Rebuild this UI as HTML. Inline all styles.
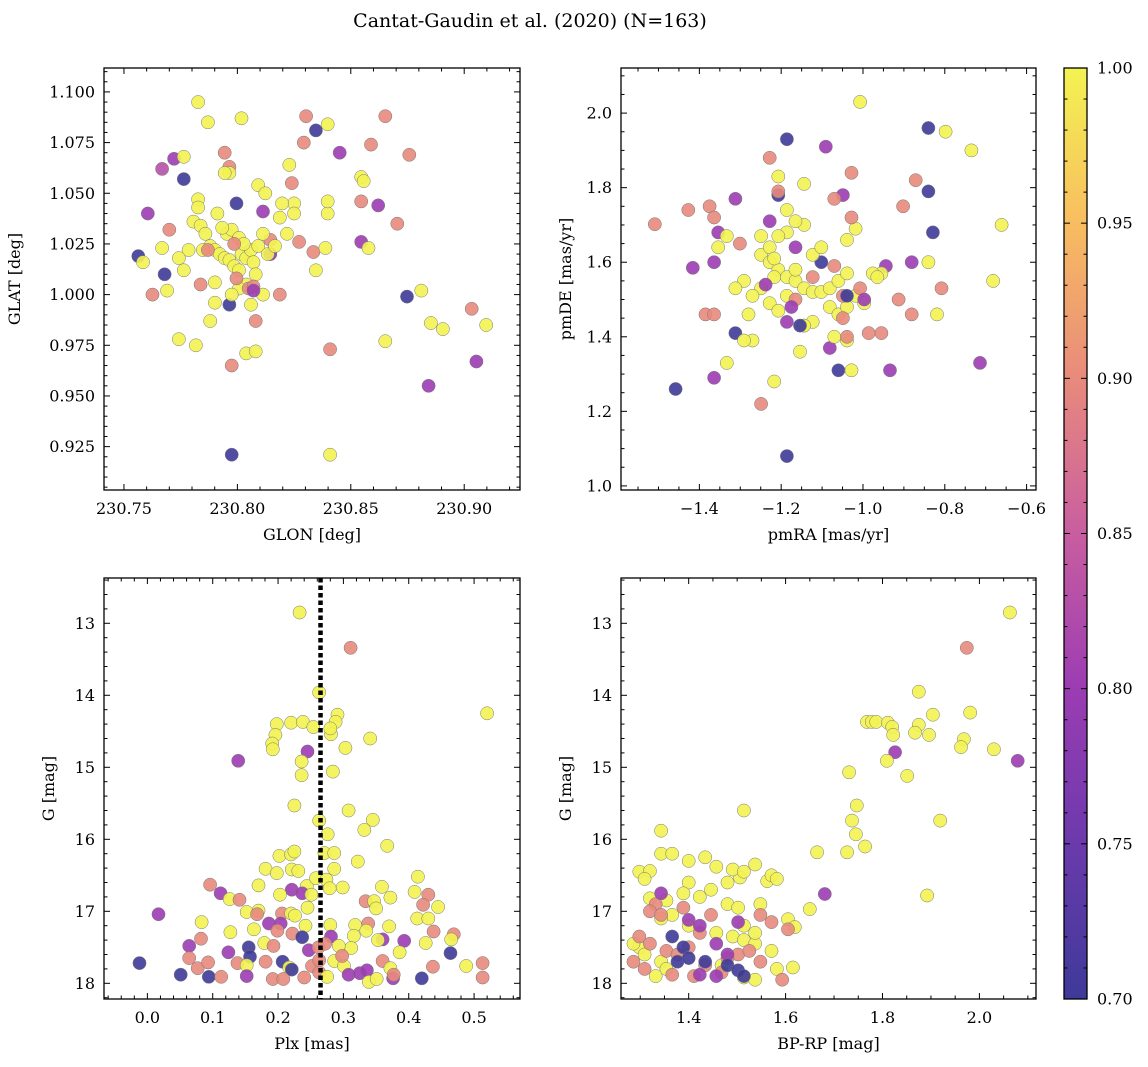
<!DOCTYPE html>
<html><head><meta charset="utf-8">
<style>
html,body{margin:0;padding:0;background:#fff;}
svg{display:block;font-family:"DejaVu Serif","Liberation Serif",serif;}
</style></head>
<body>
<svg id="chart" width="1148" height="1067" viewBox="0 0 1148 1067" xmlns="http://www.w3.org/2000/svg">
<defs>
<linearGradient id="cbar" x1="0" y1="1" x2="0" y2="0">
<stop offset="0" stop-color="#3e3a99"/><stop offset="0.1667" stop-color="#6b3aac"/><stop offset="0.3333" stop-color="#9c3cb3"/><stop offset="0.5" stop-color="#c85ea0"/><stop offset="0.6667" stop-color="#e88a7c"/><stop offset="0.8333" stop-color="#f8bd60"/><stop offset="1" stop-color="#f3f352"/>
</linearGradient>
</defs>
<text x="530" y="27" font-size="19" text-anchor="middle">Cantat-Gaudin et al. (2020) (N=163)</text>
</svg>
<script>
// ---- Data ----
const tlGlon=[230.7563,230.7584,230.7605,230.7626,230.7668,230.7679,230.7690,230.7668,230.7700,230.7721,230.7742,230.7764,230.7764,230.7817,230.7827,230.7838,230.7870,230.7880,230.7901,230.7912,230.7944,230.7965,230.7965,230.7975,230.7996,230.7975,230.8018,230.8039,230.8081,230.8113,230.8145,230.8145,230.8187,230.8187,230.8229,230.8240,230.8250,230.8272,230.8293,230.8303,230.8346,230.8346,230.8335,230.8398,230.8398,230.8398,230.8409,230.8388,230.8451,230.8546,230.8557,230.8546,230.8546,230.8578,230.8589,230.8621,230.8652,230.8652,230.8705,230.8758,230.8748,230.8811,230.8853,230.8843,230.8906,230.9033,230.9054,230.9097,230.8409,
230.7806,230.7838,230.7859,230.7827,230.7827,230.7880,230.7901,230.7922,230.7944,230.7965,230.7986,230.8007,230.8018,230.8039,230.8060,230.8071,230.8081,230.8039,230.8007,230.7975,230.7954,230.7975,230.8007,230.8028,230.8092,230.8113,230.8134,230.8166,230.8092,230.8123,230.8219,230.7848,230.7785,230.7742,230.7764,230.7901,230.7933,230.7965,230.7944,230.8113,230.8060,230.8197,230.8250,
230.7996,230.8050,230.8071,230.7870,230.7986,230.8081,230.8071];
const tlGlat=[1.019,1.016,1.040,1.000,1.062,1.010,1.002,1.023,1.032,1.067,0.978,1.057,1.068,0.975,1.095,1.005,1.085,0.987,0.996,1.040,1.070,1.063,0.995,0.921,1.045,0.965,1.087,0.971,0.972,1.041,1.027,1.020,1.000,1.038,1.064,1.055,1.045,1.026,1.075,1.088,1.081,1.012,1.021,1.084,1.040,1.046,0.973,1.023,1.070,1.058,1.056,1.046,1.026,1.023,1.074,1.044,1.088,0.977,1.035,1.069,0.999,1.002,0.986,0.955,0.983,0.993,0.967,0.985,0.921,
1.036,1.034,1.030,1.047,1.043,1.024,1.022,1.020,1.018,1.017,1.014,1.012,1.020,1.018,1.022,1.016,1.010,1.005,1.003,1.000,1.030,1.032,1.028,1.025,1.024,1.030,1.020,1.024,1.054,1.050,1.030,1.022,1.022,1.018,1.012,1.006,1.033,1.060,1.060,1.000,0.995,1.045,1.040,
1.008,1.003,1.004,1.022,1.025,0.987,1.002];
const tlProb=[0.7,1,0.8,0.9,0.83,0.7,1,1,0.9,0.8,1,0.7,1,1,1,0.9,1,1,1,1,0.9,0.9,0.7,0.7,0.7,0.9,1,1,1,0.8,0.9,0.78,0.9,1,1,0.9,1,0.9,0.9,0.9,0.7,1,0.9,1,1,1,0.9,1,0.8,1,1,0.9,0.8,1,0.9,0.8,0.9,1,0.9,0.9,0.7,1,1,0.8,1,0.9,0.8,1,1,
1,1,1,1,1,1,1,1,1,1,1,1,1,1,1,1,1,1,1,1,1,1,1,1,1,1,1,1,1,1,1,1,1,1,1,1,1,1,1,1,1,1,1,
0.9,0.9,0.9,0.9,0.9,0.9,0.8];

const trPmra=[-1.509,-1.427,-1.416,-1.458,-1.364,-1.385,-1.364,-1.375,-1.364,-1.354,-1.354,-1.364,-1.333,-1.312,-1.333,-1.312,-1.301,-1.249,-1.228,-1.228,-1.217,-1.207,-1.186,-1.186,-1.186,-1.154,-1.144,-1.091,-1.081,-1.102,-1.144,-1.060,-1.028,-1.049,-1.028,-1.007,-0.944,-0.913,-0.902,-0.871,-0.934,-0.955,-0.840,-0.798,-0.840,-0.829,-0.735,-0.661,-0.682,-0.714,-0.881,-0.840,-0.808,-0.819,-0.881,-0.955,
-1.249,-1.228,-1.207,-1.186,-1.165,-1.144,-1.123,-1.102,-1.081,-1.060,-1.039,-1.018,-0.997,-1.018,-1.039,-1.144,-1.165,-1.186,-1.207,-1.228,-1.249,-1.270,-1.228,-1.207,-1.186,-1.165,-1.123,-1.102,-1.081,-1.060,-1.039,-1.070,-1.123,-1.144,-1.291,-1.312,-1.280,-1.207,-1.186,-1.270,-1.291,-0.976,-0.965,-1.217,-1.249,-1.217,-1.039,
-1.207,-1.070,-1.049,-1.165,-1.028,-1.049,-1.039,-1.007,-0.986,-1.123,-1.070,-1.165,-0.997,-1.175,-1.238,-1.154,-1.039];
const trPmde=[1.702,1.74,1.585,1.26,1.29,1.46,1.46,1.75,1.72,1.68,1.64,1.60,1.67,1.77,1.33,1.41,1.65,1.22,1.88,1.71,1.28,1.78,1.93,1.08,1.44,1.36,1.81,1.91,1.37,1.60,1.43,1.31,1.31,1.78,1.84,2.03,1.59,1.50,1.75,1.82,1.31,1.41,1.96,1.95,1.79,1.68,1.90,1.70,1.55,1.33,1.60,1.60,1.53,1.46,1.46,1.57,
1.62,1.60,1.58,1.56,1.55,1.53,1.52,1.52,1.53,1.55,1.57,1.51,1.49,1.69,1.66,1.70,1.71,1.68,1.67,1.64,1.53,1.51,1.49,1.47,1.51,1.58,1.62,1.64,1.48,1.46,1.39,1.40,1.44,1.43,1.55,1.53,1.46,1.83,1.74,1.39,1.39,1.57,1.56,1.56,1.67,1.61,1.48,
1.79,1.59,1.51,1.50,1.72,1.45,1.40,1.53,1.41,1.56,1.77,1.64,1.50,1.48,1.54,1.43,1.51];
const trProb=[0.9,0.9,0.8,0.7,0.8,0.9,0.9,0.9,0.9,0.8,1,0.8,1,0.8,1,0.7,0.9,0.9,0.9,0.8,1,0.7,0.7,0.7,0.8,1,1,0.8,0.8,0.7,1,0.7,1,0.8,0.9,1,0.8,0.9,0.9,0.9,0.8,0.9,0.7,1,0.7,0.7,1,1,1,0.8,0.8,1,0.9,1,0.9,1,
1,1,1,1,1,1,1,1,1,1,1,1,1,1,1,1,1,1,1,1,1,1,1,1,1,1,1,1,1,1,1,1,1,1,1,1,1,1,1,1,1,1,1,1,1,1,1,
0.9,0.9,0.9,0.9,0.9,0.9,0.9,0.9,0.9,0.9,0.9,0.8,0.8,0.8,0.8,0.7,0.7];

const blPlx=[0.233,0.311,0.263,0.520,0.291,0.288,0.281,0.280,0.198,0.220,0.238,0.254,0.196,0.191,0.192,0.341,0.303,0.245,0.139,0.236,
0.236,0.284,0.225,0.308,0.263,0.345,0.276,0.332,0.367,0.202,0.220,0.225,0.271,0.286,0.322,0.181,0.198,0.221,0.231,0.286,
0.414,0.096,0.170,0.244,0.258,0.274,0.279,0.299,0.359,0.409,0.430,0.112,0.126,0.141,0.221,0.237,0.203,0.251,0.334,0.347,
0.350,0.372,0.422,0.445,0.017,0.152,0.170,0.168,0.206,0.220,0.226,0.245,0.083,0.413,0.430,0.186,0.204,0.127,0.163,0.199,
0.242,0.280,0.318,0.338,0.335,0.370,0.438,0.469,0.082,0.064,0.222,0.237,0.281,0.316,0.312,0.360,0.353,0.393,0.426,0.465,
0.179,0.193,0.124,0.155,0.157,0.247,0.262,0.272,0.293,0.386,0.464,-0.012,0.064,0.077,0.093,0.138,0.152,0.181,0.207,0.217,
0.221,0.252,0.263,0.286,0.301,0.298,0.360,0.372,0.437,0.488,0.513,0.051,0.094,0.113,0.152,0.192,0.208,0.240,0.263,0.275,
0.308,0.325,0.336,0.339,0.351,0.376,0.377,0.420,0.513];
const blG=[12.85,13.34,13.96,14.25,14.27,14.37,14.54,14.46,14.40,14.38,14.37,14.44,14.55,14.67,14.75,14.60,14.73,14.78,14.91,14.92,
15.11,15.06,15.53,15.60,15.74,15.73,15.93,15.87,16.09,16.23,16.21,16.17,16.19,16.19,16.31,16.41,16.47,16.42,16.44,16.41,
16.52,16.63,16.64,16.65,16.54,16.56,16.68,16.67,16.66,16.73,16.77,16.75,16.83,16.84,16.70,16.75,16.77,16.77,16.86,16.86,
16.96,16.81,16.91,16.94,17.04,17.01,16.99,17.04,17.03,17.03,17.06,16.95,17.15,17.10,17.10,17.17,17.17,17.29,17.25,17.27,
17.20,17.19,17.19,17.17,17.27,17.21,17.28,17.32,17.38,17.48,17.31,17.36,17.35,17.34,17.51,17.39,17.40,17.41,17.44,17.39,
17.44,17.48,17.57,17.50,17.63,17.54,17.50,17.45,17.48,17.57,17.58,17.72,17.65,17.79,17.71,17.72,17.75,17.70,17.70,17.78,
17.81,17.76,17.68,17.69,17.76,17.62,17.69,17.79,17.77,17.76,17.72,17.88,17.91,17.91,17.90,17.94,17.94,17.92,17.85,17.91,
17.88,17.86,17.82,17.98,17.94,17.93,17.88,17.93,17.92];
const blProb=[1,0.9,1,1,1,1,1,1,1,1,1,1,1,1,1,1,1,0.8,0.8,1,
1,1,1,1,1,1,1,1,1,1,1,1,1,1,1,1,1,1,1,1,
1,0.9,1,1,1,1,1,1,1,1,0.9,0.8,1,0.9,0.8,0.8,1,1,0.9,1,
1,1,0.9,1,0.8,1,1,0.9,0.9,1,1,1,1,1,1,0.8,0.8,1,1,0.9,
1,1,1,0.9,1,1,0.9,0.9,0.9,0.8,0.9,0.7,0.8,1,1,0.8,1,0.8,1,1,
1,0.9,0.8,0.7,0.7,0.8,0.9,0.9,1,1,0.7,0.7,0.9,0.9,0.9,0.9,1,0.9,0.7,1,
0.7,0.9,0.9,1,1,0.9,0.9,1,0.9,1,0.9,0.7,0.7,0.9,0.8,0.9,0.9,0.9,0.9,1,
0.8,0.8,0.8,1,1,0.8,0.9,0.7,0.9];

const brBprp=[2.063,1.974,1.875,1.904,1.981,1.768,1.778,1.787,1.811,1.820,1.822,1.875,1.867,1.896,1.968,1.962,2.030,2.079,1.826,1.809,1.731,1.851,1.747,1.737,1.745,1.764,1.727,1.919,1.681,1.892,1.665,1.605,1.619,1.615,1.562,1.506,1.650,
1.298,1.320,1.309,1.343,1.366,1.400,1.434,1.457,1.491,1.514,1.537,1.571,1.480,1.400,1.446,1.423,1.389,1.354,1.320,1.366,1.343,1.400,1.457,1.491,1.514,1.537,1.571,1.514,1.537,1.480,1.502,1.548,1.582,1.298,1.309,1.343,1.354,1.332,1.468,1.514,1.537,1.582,1.343,1.514,1.286,
1.298,1.320,1.286,1.309,1.354,1.377,1.400,1.423,1.446,1.332,1.389,1.320,1.343,1.366,1.411,1.468,1.502,1.525,1.548,1.593,1.480,1.434,1.571,1.548,1.605,
1.343,1.400,1.423,1.457,1.480,1.502,1.423,1.457,
1.366,1.389,1.377,1.400,1.434,1.480,1.502,1.514];
const brG=[12.85,13.34,13.95,14.27,14.24,14.37,14.37,14.37,14.38,14.44,14.55,14.41,14.52,14.55,14.61,14.72,14.75,14.91,14.79,14.91,15.07,15.12,15.53,15.74,15.93,16.10,16.18,15.74,16.76,16.78,16.18,17.11,17.22,17.78,16.58,16.53,16.97,
16.45,16.44,16.55,16.20,16.20,16.30,16.25,16.38,16.42,16.45,16.35,16.50,16.60,16.60,16.70,16.80,16.75,16.85,16.82,17.05,17.10,17.20,17.30,17.35,17.40,17.45,17.55,17.20,17.30,16.90,16.95,16.90,16.55,17.50,17.60,17.70,17.80,17.90,17.75,17.92,17.95,17.80,15.88,15.60,17.45,
17.35,17.45,17.70,17.80,17.55,17.60,17.50,17.30,17.05,16.90,16.95,17.00,17.05,17.88,17.90,17.85,17.60,17.55,17.70,17.95,17.65,17.75,17.15,17.05,17.25,
16.75,17.12,17.20,17.45,17.60,17.15,17.88,17.90,
17.35,17.50,17.70,17.65,17.70,17.75,17.82,17.90];
const brProb=[1,0.9,1,1,1,1,1,1,1,1,1,1,1,1,1,1,1,0.8,0.8,1,1,1,1,1,1,1,1,1,0.8,1,1,1,1,1,1,1,1,
1,1,1,1,1,1,1,1,1,1,1,1,1,1,1,1,1,1,1,1,1,1,1,1,1,1,1,1,1,1,1,1,1,1,1,1,1,1,1,1,1,1,1,1,1,
0.9,0.9,0.9,0.9,0.9,0.9,0.9,0.9,0.9,0.9,0.9,0.9,0.9,0.9,0.9,0.9,0.9,0.9,0.9,0.9,0.9,0.9,0.9,0.9,0.9,
0.8,0.8,0.8,0.8,0.8,0.8,0.8,0.8,
0.7,0.7,0.7,0.7,0.7,0.7,0.7,0.7];

const cbarTicks=["0.70","0.75","0.80","0.85","0.90","0.95","1.00"];
const plxLine=0.265;

// ---- drawing ----
const NS="http://www.w3.org/2000/svg";
const svg=document.getElementById('chart');
function el(tag,attrs,parent){const e=document.createElementNS(NS,tag);for(const k in attrs)e.setAttribute(k,attrs[k]);(parent||svg).appendChild(e);return e;}
const stops=[[0.70,[62,58,153]],[0.75,[107,58,172]],[0.80,[156,60,179]],[0.85,[200,94,160]],[0.90,[232,138,124]],[0.95,[248,189,96]],[1.00,[243,243,82]]];
function cmap(v){v=Math.max(0.7,Math.min(1,v));for(let i=0;i<stops.length-1;i++){const a=stops[i],b=stops[i+1];if(v<=b[0]){const t=(v-a[0])/(b[0]-a[0]);const c=a[1].map((x,j)=>Math.round(x+(b[1][j]-x)*t));return `rgb(${c[0]},${c[1]},${c[2]})`;}}return 'rgb(243,243,82)';}

function panel(p){
  const g=el('g',{});
  
  
  const sx=v=>p.x0+(v-p.xmin)/(p.xmax-p.xmin)*(p.x1-p.x0);
  const sy=p.invert?(v=>p.y0+(v-p.ymin)/(p.ymax-p.ymin)*(p.y1-p.y0)):(v=>p.y1-(v-p.ymin)/(p.ymax-p.ymin)*(p.y1-p.y0));
  const pg=el('g',{},g);
  
  
  for(let i=0;i<p.xs.length;i++){
    const c=el('circle',{cx:sx(p.xs[i]).toFixed(1),cy:sy(p.ys[i]).toFixed(1),r:6.6,fill:cmap(p.ps[i]),'fill-opacity':0.9,stroke:'#777','stroke-width':0.5},pg);
    
    
  }
  if(p.vline!==undefined){
    const l=el('line',{x1:sx(p.vline),x2:sx(p.vline),y1:p.y0,y2:p.y1,stroke:'#000','stroke-width':4.5,'stroke-dasharray':'4.5,3'},g);
    
    
  }
  const tg=el('g',{stroke:'#000','stroke-width':1},g);
  const eps=1e-9;
  for(let v=Math.ceil(p.xmin/p.xminor-eps)*p.xminor;v<=p.xmax+eps;v+=p.xminor){
    const X=sx(v);const major=Math.abs(v/p.xmajor-Math.round(v/p.xmajor))<1e-4;const L=major?6:3.5;
    el('line',{x1:X,x2:X,y1:p.y1,y2:p.y1-L},tg);el('line',{x1:X,x2:X,y1:p.y0,y2:p.y0+L},tg);
  }
  for(let v=Math.ceil(p.ymin/p.yminor-eps)*p.yminor;v<=p.ymax+eps;v+=p.yminor){
    const Y=sy(v);const major=Math.abs(v/p.ymajor-Math.round(v/p.ymajor))<1e-4;const L=major?6:3.5;
    el('line',{x1:p.x0,x2:p.x0+L,y1:Y,y2:Y},tg);el('line',{x1:p.x1,x2:p.x1-L,y1:Y,y2:Y},tg);
  }
  p.xticks.forEach((v,i)=>{const t=el('text',{x:sx(v),y:p.y1+24,'font-size':16,'text-anchor':'middle'},g);t.textContent=p.xlabels[i];
    });
  p.yticks.forEach((v,i)=>{const t=el('text',{x:p.x0-9,y:sy(v)+5.5,'font-size':16,'text-anchor':'end'},g);t.textContent=p.ylabels[i];
    });
  const xt=el('text',{x:(p.x0+p.x1)/2,y:p.y1+50,'font-size':16,'text-anchor':'middle'},g);xt.textContent=p.xtitle;
  
  const yx=p.x0-p.ytoff, yy=(p.y0+p.y1)/2;
  const yt=el('text',{x:yx,y:yy,'font-size':16,'text-anchor':'middle',transform:`rotate(-90 ${yx} ${yy})`},g);yt.textContent=p.ytitle;
  
  const fr=el('rect',{x:p.x0,y:p.y0,width:p.x1-p.x0,height:p.y1-p.y0,fill:'none',stroke:'#000','stroke-width':1.3},g);
  
}

panel({name:'panel-glon-glat',x0:104,x1:520,y0:68,y1:490,xmin:230.7412,xmax:230.9246,ymin:0.9036,ymax:1.1118,
  xmajor:0.05,xminor:0.01,ymajor:0.025,yminor:0.005,xs:tlGlon,ys:tlGlat,ps:tlProb,
  xticks:[230.75,230.80,230.85,230.90],xlabels:['230.75','230.80','230.85','230.90'],
  yticks:[0.925,0.95,0.975,1.0,1.025,1.05,1.075,1.1],ylabels:['0.925','0.950','0.975','1.000','1.025','1.050','1.075','1.100'],
  xtitle:'GLON [deg]',ytitle:'GLAT [deg]',ytoff:84});
panel({name:'panel-pm',x0:621,x1:1036,y0:68,y1:490,xmin:-1.5916,xmax:-0.577,ymin:0.989,ymax:2.121,
  xmajor:0.2,xminor:0.05,ymajor:0.2,yminor:0.05,xs:trPmra,ys:trPmde,ps:trProb,
  xticks:[-1.4,-1.2,-1.0,-0.8,-0.6],xlabels:['\u22121.4','\u22121.2','\u22121.0','\u22120.8','\u22120.6'],
  yticks:[1.0,1.2,1.4,1.6,1.8,2.0],ylabels:['1.0','1.2','1.4','1.6','1.8','2.0'],
  xtitle:'pmRA [mas/yr]',ytitle:'pmDE [mas/yr]',ytoff:50});
panel({name:'panel-plx-g',x0:104,x1:520,y0:578,y1:999,xmin:-0.0664,xmax:0.5703,ymin:12.371,ymax:18.218,invert:true,
  xmajor:0.1,xminor:0.02,ymajor:1,yminor:0.2,xs:blPlx,ys:blG,ps:blProb,vline:plxLine,
  xticks:[0,0.1,0.2,0.3,0.4,0.5],xlabels:['0.0','0.1','0.2','0.3','0.4','0.5'],
  yticks:[13,14,15,16,17,18],ylabels:['13','14','15','16','17','18'],
  xtitle:'Plx [mas]',ytitle:'G [mag]',ytoff:50});
panel({name:'panel-cmd',x0:621,x1:1036,y0:578,y1:999,xmin:1.2603,xmax:2.1168,ymin:12.371,ymax:18.218,invert:true,
  xmajor:0.2,xminor:0.05,ymajor:1,yminor:0.2,xs:brBprp,ys:brG,ps:brProb,
  xticks:[1.4,1.6,1.8,2.0],xlabels:['1.4','1.6','1.8','2.0'],
  yticks:[13,14,15,16,17,18],ylabels:['13','14','15','16','17','18'],
  xtitle:'BP-RP [mag]',ytitle:'G [mag]',ytoff:50});

const cb=el('g',{});


const cy0=68,cy1=999,cx0=1064,cx1=1087;
el('rect',{x:cx0,y:cy0,width:cx1-cx0,height:cy1-cy0,fill:'url(#cbar)',stroke:'#000','stroke-width':1.3},cb);
for(let i=0;i<=30;i++){const v=0.70+i*0.01;const Y=cy1-(v-0.70)/0.30*(cy1-cy0);const major=i%5===0;
  el('line',{x1:cx1,x2:cx1-(major?6:3.5),y1:Y,y2:Y,stroke:'#000','stroke-width':1},cb);
  el('line',{x1:cx0,x2:cx0+(major?6:3.5),y1:Y,y2:Y,stroke:'#000','stroke-width':1},cb);}
cbarTicks.forEach(s=>{const v=parseFloat(s);const Y=cy1-(v-0.70)/0.30*(cy1-cy0);
  const t=el('text',{x:cx1+10,y:Y+5.5,'font-size':16},cb);t.textContent=s;
  });
</script>
</body></html>
